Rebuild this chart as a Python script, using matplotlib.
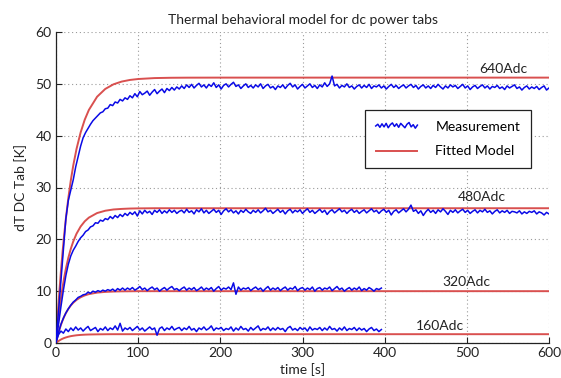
import numpy as np
import matplotlib
matplotlib.use("Agg")
import matplotlib.pyplot as plt
from matplotlib.lines import Line2D
from matplotlib.legend_handler import HandlerBase

plt.rcParams['font.family'] = ['Lato', 'DejaVu Sans']

# ---------------- data ----------------
# measurement time axis (s)
t_long = np.arange(0, 601, 3)    # 640 A and 480 A runs
t_short = np.arange(0, 397, 3)   # 320 A and 160 A runs

meas_640 = [
    0.5, 6.0, 12.0, 18.0, 24.0, 27.5, 29.5, 31.5, 34.0, 36.0,
    38.0, 39.6, 40.6, 41.4, 42.2, 42.9, 43.4, 43.9, 44.4, 44.6,
    45.2, 45.3, 46.0, 45.8, 46.5, 46.3, 47.0, 46.7, 47.3, 47.0,
    47.7, 47.3, 48.1, 47.5, 48.5, 47.9, 48.2, 48.6, 47.8, 48.4,
    48.9, 48.1, 48.6, 49.0, 48.3, 49.1, 48.7, 49.3, 48.8, 49.4,
    49.0,
    49.6, 49.1, 49.8, 49.3, 49.9, 49.2, 49.7, 50.1, 49.4, 49.8,
    49.2, 49.9, 49.5, 50.2, 49.3, 49.8, 49.0, 49.7, 50.0, 49.4,
    49.9, 50.3, 49.5, 49.8, 49.1, 49.6, 50.0, 49.3, 49.7, 49.2,
    49.8, 49.4, 50.0, 49.1, 49.6, 49.9, 49.2, 49.5, 48.9, 49.6,
    49.3, 49.8, 49.1, 49.7, 50.1, 49.4, 49.8, 49.0, 49.5, 49.9,
    49.2, 49.6, 50.0, 49.3, 49.7, 49.1, 49.8, 49.4, 50.2, 49.5,
    50.0, 51.5, 49.6, 49.9, 49.2, 49.7, 49.4, 50.0, 49.3, 49.6,
    49.0, 49.5, 49.8, 49.2, 49.7, 49.3, 49.9, 49.1, 49.6, 49.4,
    49.8, 49.2, 49.6, 49.0, 49.5, 49.9, 49.3, 49.7, 49.1, 49.5,
    49.8, 49.2, 49.6, 49.9, 49.3, 49.7, 49.0, 49.5, 49.8, 49.2,
    49.6, 49.1, 49.7, 49.3, 49.9, 49.4, 49.0, 49.6, 49.2, 49.8,
    49.4, 49.7, 49.1, 49.5, 49.9, 49.2, 49.6, 48.9, 49.4, 49.7,
    49.1, 49.5, 49.8, 49.2, 49.6, 49.0, 49.5, 49.3, 49.7, 49.1,
    49.4, 48.9, 49.6, 49.2, 49.5, 49.8, 49.1, 49.4, 48.8, 49.3,
    49.6, 49.0, 49.4, 49.1, 49.5, 48.9, 49.3, 49.6, 48.8, 49.2,
]

meas_480 = [
    0.3, 3.5, 7.0, 10.2, 13.0, 15.2, 16.8, 17.9, 18.7, 19.6,
    20.3, 20.8, 21.5, 21.8, 22.4, 22.6, 23.2, 23.1, 23.7, 23.5,
    24.0, 23.8, 24.4, 24.0, 24.6, 24.2, 24.8, 24.4, 25.0, 24.6,
    25.2, 24.8, 25.3, 24.5, 25.5, 24.9, 25.6, 25.1, 25.4, 24.8,
    25.6, 25.2, 25.7, 25.0, 25.5, 25.1, 25.7, 25.2, 25.6, 25.0,
    25.4,
    25.6, 25.1, 25.8, 25.2, 25.5, 24.9, 25.7, 25.3, 25.9, 25.1,
    25.6, 25.0, 25.4, 25.8, 25.2, 25.6, 24.8, 25.5, 25.9, 25.3,
    25.7, 25.1, 25.5, 24.9, 25.6, 25.2, 25.8, 25.3, 25.0, 25.6,
    25.2, 25.7, 25.1, 25.5, 26.0, 25.3, 25.6, 25.0, 25.4, 25.8,
    25.2, 25.6, 24.9, 25.5, 25.8, 25.1, 25.6, 25.3, 25.7, 25.0,
    25.5, 25.9, 25.2, 25.6, 25.0, 25.4, 25.8, 25.2, 25.6, 24.8,
    25.4, 25.7, 25.1, 25.5, 25.9, 25.3, 25.6, 25.0, 25.5, 25.8,
    25.2, 25.6, 25.0, 25.4, 25.7, 25.1, 25.5, 25.9, 25.3, 25.6,
    25.0, 25.5, 25.8, 25.2, 25.6, 24.7, 25.4, 25.7, 25.1, 25.5,
    25.9, 25.3, 25.8, 26.6, 25.4, 25.7, 25.0, 25.5, 24.6, 25.3,
    25.8, 25.2, 25.6, 25.0, 25.7, 25.3, 25.9, 25.4, 24.8, 25.6,
    25.2, 25.7, 25.1, 25.5, 25.8, 25.2, 25.6, 25.0, 25.4, 25.7,
    25.1, 25.6, 25.3, 25.8, 25.2, 25.5, 24.9, 25.4, 25.7, 25.1,
    25.5, 25.2, 25.6, 25.0, 25.4, 25.3, 25.1, 25.5, 24.9, 25.3,
    25.0, 25.4, 25.2, 25.5, 24.9, 25.3, 25.1, 24.7, 25.2, 24.9,
]

meas_320 = [
    0.2, 2.0, 3.6, 4.8, 5.8, 6.6, 7.3, 7.9, 8.3, 8.8,
    9.0, 9.3, 9.4, 9.8, 9.6, 10.0, 9.8, 10.1, 9.9, 10.2,
    10.0, 10.3, 10.1, 10.4, 10.0, 10.5, 10.2, 10.6, 10.2, 10.6,
    10.3,
    10.7, 10.2, 10.5, 10.9, 10.3, 10.6, 10.1, 10.5, 10.8, 10.3,
    10.6, 10.0, 10.4, 10.7, 10.2, 10.6, 10.9, 10.3, 10.5, 10.1,
    10.5, 10.8, 10.2, 10.6, 10.3, 10.7, 10.1, 10.4, 10.8, 10.2,
    10.6, 10.3, 10.7, 10.0, 10.5, 10.9, 10.2, 10.6, 10.4, 10.8,
    10.3, 11.6, 9.4, 10.8, 10.2, 10.6, 10.4, 10.7, 10.1, 10.5,
    10.8, 10.3, 10.6, 10.0, 10.5, 10.9, 10.2, 10.6, 10.3, 10.7,
    10.1, 10.5, 10.8, 10.2, 10.6, 10.4, 10.9, 10.1, 10.5, 10.7,
    10.2, 10.6, 10.3, 10.8, 10.0, 10.5, 10.7, 10.2, 10.6, 10.4,
    10.8, 10.1, 10.5, 10.9, 10.3, 10.6, 10.0, 10.4, 10.7, 10.2,
    10.6, 10.3, 10.8, 10.1, 10.5, 10.2, 10.7, 10.4, 10.0, 10.5,
    10.3, 10.6,
]

meas_160 = [
    0.2, 1.6, 2.3, 1.9, 2.7, 2.2, 2.9, 2.4, 3.1, 2.5,
    2.9, 2.3, 2.8, 3.2, 2.4, 2.7, 3.0, 2.2, 2.8, 2.5,
    3.1, 2.4, 2.9, 2.6, 3.3, 2.5, 3.8, 2.3, 2.9, 2.6,
    3.0, 2.4, 2.8, 3.2, 2.5, 2.9, 2.3, 2.7, 3.1, 2.6,
    2.9, 1.5, 2.8, 3.1, 2.4, 2.9, 2.6, 3.2, 2.5, 2.8,
    3.0, 2.4, 2.9, 2.6, 3.2, 2.5, 2.8, 2.2, 2.9, 2.6,
    3.1, 2.5, 2.8, 3.3, 2.4, 2.9, 2.7, 3.0, 2.4, 2.8,
    2.6, 3.1, 2.3, 2.9, 2.5, 3.2, 2.6, 2.8, 2.3, 3.0,
    2.5, 2.9, 3.3, 2.4, 2.8, 2.6, 3.1, 2.4, 2.9, 2.5,
    3.0, 2.6, 2.8, 2.2, 2.9, 3.2, 2.5, 2.8, 2.4, 3.0,
    2.6, 2.9, 2.3, 3.1, 2.5, 2.8, 2.6, 3.0, 2.4, 2.9,
    2.5, 3.2, 2.6, 2.8, 2.3, 2.9, 2.5, 3.1, 2.4, 2.8,
    2.6, 3.0, 2.4, 2.9, 2.5, 2.8, 2.2, 2.7, 3.0, 2.4,
    2.7, 2.2, 2.6,
]

# fitted model
t_model = [0, 2, 4, 6, 8, 10, 12, 15, 18, 21, 25, 30, 35, 40, 50, 60,
           70, 80, 90, 100, 120, 140, 160, 200, 300, 400, 500, 600]
model_640 = [0, 5.12, 9.72, 13.87, 17.60, 20.95, 23.97, 27.95, 31.35, 34.25,
             37.46, 40.64, 43.09, 44.96, 47.51, 49.02, 49.91, 50.44, 50.75,
             50.93, 51.11, 51.17, 51.19, 51.2, 51.2, 51.2, 51.2, 51.2]
model_480 = [0, 3.25, 6.09, 8.57, 10.75, 12.65, 14.32, 16.44, 18.17, 19.59,
             21.09, 22.48, 23.48, 24.19, 25.07, 25.52, 25.76, 25.87, 25.94,
             25.97, 26.0, 26.0, 26.0, 26.0, 26.0, 26.0, 26.0, 26.0]
model_320 = [0, 1.33, 2.49, 3.49, 4.35, 5.11, 5.76, 6.58, 7.24, 7.77,
             8.32, 8.83, 9.18, 9.43, 9.72, 9.86, 9.93, 9.97, 9.98,
             10.0, 10.0, 10.0, 10.0, 10.0, 10.0, 10.0, 10.0, 10.0]
model_160 = [0, 0.26, 0.48, 0.67, 0.83, 0.96, 1.07, 1.21, 1.32, 1.40,
             1.49, 1.56, 1.61, 1.64, 1.67, 1.69, 1.70, 1.70, 1.70,
             1.70, 1.70, 1.70, 1.70, 1.70, 1.70, 1.70, 1.70, 1.70]

series_labels = ["640Adc", "480Adc", "320Adc", "160Adc"]
label_pos_t = [544, 518, 499, 467]
label_pos_y = [52.9, 28.2, 11.8, 3.3]

x_ticks = [0, 100, 200, 300, 400, 500, 600]
y_ticks = [0, 10, 20, 30, 40, 50, 60]

BLUE = '#0a0ae6'
RED = '#d9504f'
TXT = '#222222'
FS = 10

# ---------------- figure ----------------
fig = plt.figure(figsize=(5.61, 3.78), dpi=100)
ax = fig.add_axes([56/561, 1 - 343/378, (549 - 56)/561, (343 - 32)/378])

for tm, ym in [(t_model, model_640), (t_model, model_480),
               (t_model, model_320), (t_model, model_160)]:
    ax.plot(tm, ym, color=RED, lw=1.4, zorder=2)

for tt, yy in [(t_long, meas_640), (t_long, meas_480),
               (t_short, meas_320), (t_short, meas_160)]:
    ax.plot(tt, yy, color=BLUE, lw=1.1, zorder=3)

for lab, tx, ty in zip(series_labels, label_pos_t, label_pos_y):
    ax.text(tx, ty, lab, ha='center', va='center', fontsize=FS, color=TXT)

ax.set_xlim(0, 600)
ax.set_ylim(0, 60)
ax.set_xticks(x_ticks)
ax.set_yticks(y_ticks)
ax.tick_params(direction='in', length=4, width=0.8, labelsize=FS,
               colors=TXT, pad=3)
ax.grid(True, linestyle=(0, (1, 2.5)), color='#9a9a9a', lw=0.8)
ax.spines['top'].set_visible(False)
ax.spines['right'].set_visible(False)
for s in ['left', 'bottom']:
    ax.spines[s].set_linewidth(0.9)
    ax.spines[s].set_color(TXT)

ax.set_title("Thermal behavioral model for dc power tabs", fontsize=FS,
             color=TXT, pad=6)
ax.set_xlabel("time [s]", fontsize=FS, color=TXT, labelpad=3)
ax.set_ylabel("dT DC Tab [K]", fontsize=FS, color=TXT, labelpad=6)

# legend with a jagged sample for the measurement
legend_jitter = [0.0, 0.4, -0.3, 0.5, -0.2, 0.6, -0.4, 0.3, 0.7, -0.1,
                 0.5, -0.3, 0.6, 0.1, -0.4, 0.4, 0.8, -0.2, 0.3, -0.5, 0.2]

class JaggedHandler(HandlerBase):
    def create_artists(self, legend, orig_handle, xdescent, ydescent,
                       width, height, fontsize, trans):
        n = len(legend_jitter)
        xs = [-xdescent + width * i / (n - 1) for i in range(n)]
        ys = [height / 2 - ydescent + height * 0.45 * v for v in legend_jitter]
        ln = Line2D(xs, ys, color=BLUE, lw=1.1, transform=trans)
        return [ln]

h_meas = Line2D([], [], color=BLUE, lw=1.1)
h_model = Line2D([], [], color=RED, lw=1.4)
leg = ax.legend([h_meas, h_model], ["Measurement", "Fitted Model"],
                loc='upper left', bbox_to_anchor=(0.626, 0.75),
                borderaxespad=0, fontsize=FS, fancybox=False,
                framealpha=1, edgecolor=TXT, handlelength=3.0,
                handletextpad=1.3, borderpad=0.8, labelspacing=0.9,
                handler_map={h_meas: JaggedHandler()})
leg.get_frame().set_linewidth(0.9)

fig.savefig("out.png", dpi=100)
